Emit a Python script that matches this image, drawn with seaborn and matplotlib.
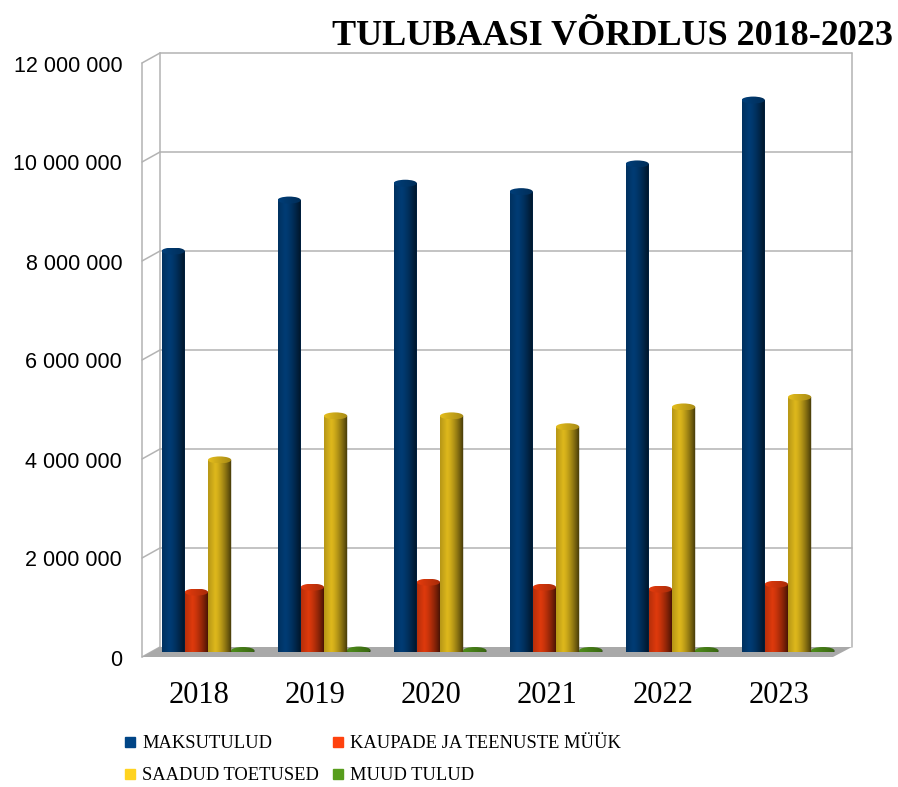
import numpy as np
import pandas as pd
import matplotlib
matplotlib.use("Agg")
import matplotlib.pyplot as plt
import seaborn as sns
from matplotlib import transforms as mtransforms
from matplotlib.patches import Ellipse, Polygon
from matplotlib.lines import Line2D
from matplotlib.colors import to_rgb

# ---------------- data ----------------
years = ["2018", "2019", "2020", "2021", "2022", "2023"]
series_names = ["MAKSUTULUD", "KAUPADE JA TEENUSTE MÜÜK", "SAADUD TOETUSED", "MUUD TULUD"]
maksutulud = [8100000, 9130000, 9470000, 9300000, 9860000, 11150000]
kaupade = [1210000, 1310000, 1410000, 1310000, 1270000, 1370000]
toetused = [3880000, 4770000, 4770000, 4550000, 4950000, 5150000]
muud = [30000, 40000, 30000, 30000, 30000, 30000]
colors = ["#004586", "#ff420e", "#ffd320", "#579d1c"]
yticks = [0, 2000000, 4000000, 6000000, 8000000, 10000000, 12000000]
ytick_labels = ["0", "2 000 000", "4 000 000", "6 000 000", "8 000 000", "10 000 000", "12 000 000"]
title = "TULUBAASI VÕRDLUS 2018-2023"

df = pd.DataFrame({
    "year": years * 4,
    "series": np.repeat(series_names, len(years)),
    "value": maksutulud + kaupade + toetused + muud,
})

sns.set_theme(style="white")
plt.rcParams["font.family"] = ["Liberation Sans", "DejaVu Sans"]

W, H = 898, 787
fig = plt.figure(figsize=(W / 100, H / 100), dpi=100)
AX_L, AX_R, AX_B, AX_T = 150, 846, 652, 58
ax = fig.add_axes([AX_L / W, (H - AX_B) / H, (AX_R - AX_L) / W, (AX_B - AX_T) / H])
ax.patch.set_visible(False)

sns.barplot(data=df, x="year", y="value", hue="series", hue_order=series_names,
            order=years, palette=colors, width=0.8, saturation=1, ax=ax,
            legend=False, edgecolor="none", linewidth=0, zorder=3)
ax.set_xlim(-0.5, 5.5)
ax.set_ylim(0, 12000000)

def axx(px):
    return (px - AX_L) / (AX_R - AX_L)

def axy(px):
    return (AX_B - px) / (AX_B - AX_T)

px_per_in = 100.0
blend = mtransforms.blended_transform_factory(ax.transAxes, ax.transData)
back_tr = blend + mtransforms.ScaledTranslation(0, 5 / px_per_in, fig.dpi_scale_trans)
front_tr = blend + mtransforms.ScaledTranslation(0, -5 / px_per_in, fig.dpi_scale_trans)

grid_c = "#b3b3b3"
# floor
floor = Polygon([(axx(142), axy(657)), (axx(833), axy(657)), (axx(852), axy(647)), (axx(160), axy(647))],
                closed=True, transform=ax.transAxes, facecolor="#a9a9a9", edgecolor="none",
                clip_on=False, zorder=1)
ax.add_patch(floor)
# back wall gridlines + left 3D edges
for v in yticks[1:]:
    ax.plot([axx(160), axx(852)], [v, v], transform=back_tr, color=grid_c, lw=1.1, clip_on=False, zorder=0.5)
for v in yticks:
    p_front = front_tr.transform((axx(142), v))
    p_back = back_tr.transform((axx(160), v))
    ax.add_line(Line2D([p_front[0], p_back[0]], [p_front[1], p_back[1]], transform=None,
                       color=grid_c, lw=1.1, zorder=0.5, clip_on=False))
ax.plot([axx(142), axx(142)], [0, 12000000], transform=front_tr, color=grid_c, lw=1.1, clip_on=False, zorder=0.5)
ax.plot([axx(160), axx(160)], [0, 12000000], transform=back_tr, color=grid_c, lw=1.1, clip_on=False, zorder=0.5)
ax.plot([axx(852), axx(852)], [0, 12000000], transform=back_tr, color=grid_c, lw=1.1, clip_on=False, zorder=0.5)

# cylinder shading
t = np.linspace(0, 1, 80)
prof = np.where(t < 0.3, 0.82 + 0.18 * (t / 0.3), 1 - 0.72 * ((t - 0.3) / 0.7) ** 1.4)
k = 0.87
eh = 12000000 * 7 / (AX_B - AX_T)
for i, cont in enumerate(ax.containers):
    base = np.array(to_rgb(colors[i]))
    rgb = np.clip(base[None, :] * prof[:, None] * k, 0, 1)
    img = rgb[None, :, :]
    top_rgb = np.clip(base[None, :] * (0.65 + 0.25 * (1 - t[:, None])), 0, 1)[None, :, :]
    for bar in cont:
        x, w, h = bar.get_x(), bar.get_width(), bar.get_height()
        ang = np.linspace(np.pi, 2 * np.pi, 40)
        arc = [(x + w / 2 + w / 2 * np.cos(a), eh / 2 * np.sin(a)) for a in ang]
        clip_pts = [(x, h)] + arc + [(x + w, h)]
        clip_poly = Polygon(clip_pts, closed=True, transform=ax.transData, facecolor="none", edgecolor="none")
        im = ax.imshow(img, extent=[x, x + w, -eh / 2, h], aspect="auto", zorder=3.1,
                       interpolation="bilinear", origin="lower")
        im.set_clip_box(None)
        im.set_clip_path(clip_poly)
        top = Ellipse((x + w / 2, h), w, eh, facecolor="none", edgecolor="none",
                      transform=ax.transData)
        im2 = ax.imshow(top_rgb, extent=[x, x + w, h - eh / 2, h + eh / 2], aspect="auto",
                        zorder=3.2, interpolation="bilinear", origin="lower")
        im2.set_clip_box(None)
        im2.set_clip_path(top)

ax.set_xlim(-0.5, 5.5)
ax.set_ylim(0, 12000000)

# ticks
ax.set_yticks(yticks, ytick_labels)
ax.tick_params(axis="y", length=0, pad=20, labelsize=15.5, labelcolor="#000000")
ax.tick_params(axis="x", length=0, pad=21, labelsize=22, labelcolor="#000000")
for lab in ax.get_xticklabels():
    lab.set_fontfamily(["Liberation Serif", "DejaVu Serif"])
    lab.set_transform(lab.get_transform() + mtransforms.ScaledTranslation(-9 / px_per_in, 0, fig.dpi_scale_trans))
for lab in ax.get_yticklabels():
    lab.set_transform(lab.get_transform() + mtransforms.ScaledTranslation(0, -5.5 / px_per_in, fig.dpi_scale_trans))
ax.set_xlabel("")
ax.set_ylabel("")
for s in ax.spines.values():
    s.set_visible(False)
ax.grid(False)

# title
fig.text(893 / W, 1 - 45 / H, title, ha="right", va="baseline", fontsize=26,
         fontweight="bold", family=["Liberation Serif", "DejaVu Serif"], color="#000000")

# legend
handles = [Line2D([], [], marker="s", markersize=7.5, linestyle="none", color=c) for c in colors]
order = [0, 2, 1, 3]
leg = fig.legend([handles[j] for j in order], [series_names[j] for j in order],
                 loc="upper left", bbox_to_anchor=(124.5 / W, 1 - 735 / H), ncol=2,
                 frameon=False, borderpad=0, borderaxespad=0, handlelength=0.6,
                 handletextpad=0.35, columnspacing=0.73, labelspacing=0.82,
                 prop={"family": ["Liberation Serif", "DejaVu Serif"], "size": 13.3})
for txt in leg.get_texts():
    txt.set_color("#000000")

fig.savefig("out.png", dpi=100)
